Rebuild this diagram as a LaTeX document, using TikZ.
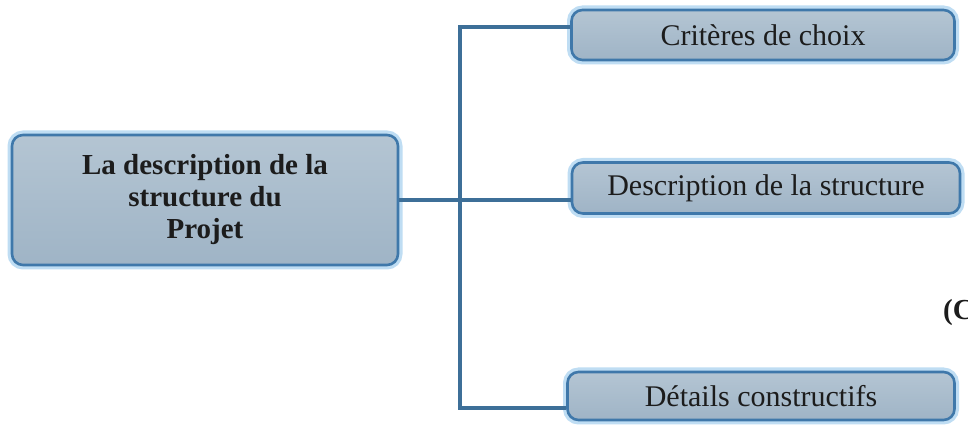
\documentclass[tikz,border=0pt]{standalone}
\usepackage{fontspec}
\setmainfont{Liberation Serif}
\usepackage{xcolor}
\usetikzlibrary{positioning, calc}
\definecolor{boxBorder}{HTML}{3F78AA}
\definecolor{boxGlow}{HTML}{BFDDF3}
\definecolor{boxTop}{HTML}{B4C5D3}
\definecolor{boxBottom}{HTML}{9FB4C6}
\definecolor{linkBlue}{HTML}{3D6F98}
\definecolor{inkText}{HTML}{1C1C1C}

\begin{document}
\begin{tikzpicture}[x=1pt, y=1pt,
    box/.style={rounded corners=11pt, draw=boxBorder, line width=2.6pt,
      top color=boxTop, bottom color=boxBottom,
      preaction={draw=boxGlow, line width=9pt, rounded corners=11pt},
      inner sep=0pt, text=inkText, align=center},
    link/.style={line width=4.5pt, color=linkBlue}]
    \useasboundingbox (0,0) rectangle (968,425);
    % Main box
    \node[box, minimum width=386pt, minimum height=130pt,
      font=\fontsize{29}{32}\selectfont\bfseries] (main) at (205,225)
      {La description de la\\ structure du\\ Projet};
    % Child boxes
    \node[box, minimum width=383pt, minimum height=50pt,
      font=\fontsize{30}{32}\selectfont] (crit) at (763,390) {Critères de choix};
    \node[box, minimum width=388pt, minimum height=51pt,
      font=\fontsize{30}{32}\selectfont] (desc) at (766,237) {Description de la structure};
    \node[box, minimum width=387pt, minimum height=48pt,
      font=\fontsize{30}{32}\selectfont] (det) at (761,29) {Détails constructifs};
    % Tree connectors
    \coordinate (hub) at (460,225);
    \draw[link] (main.east) -- (hub);
    \draw[link] ([yshift=8pt]crit.west) -| (hub) |- ([yshift=-12pt]det.west);
    \draw[link] (hub) -- (hub -| desc.west);
    % Cut-off text at the right edge
    \node[anchor=west, inner sep=0pt, font=\fontsize{29}{32}\selectfont\bfseries,
      text=inkText] (cut) at (943,112) {(C};
  \end{tikzpicture}
\end{document}
